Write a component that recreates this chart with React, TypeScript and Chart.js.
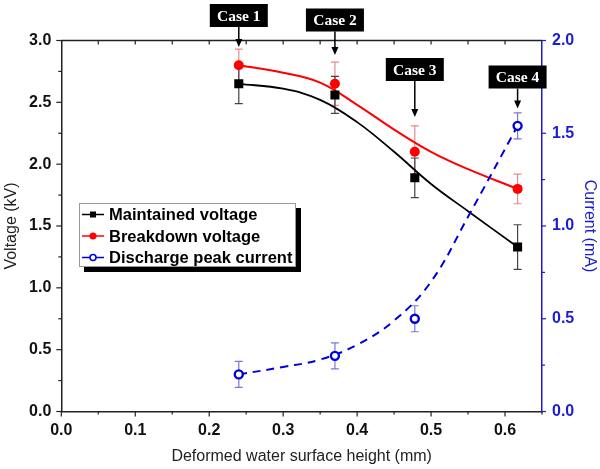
import React, { useEffect, useRef } from 'react';
import { Chart, registerables } from 'chart.js';

Chart.register(...registerables);

// ---- data ----
const heights = [0.24, 0.37, 0.478, 0.617];
const maintainedVoltage = [2.65, 2.56, 1.89, 1.33];
const maintainedErr = [0.16, 0.15, 0.16, 0.18];
const breakdownVoltage = [2.8, 2.65, 2.1, 1.8];
const breakdownErr = [0.13, 0.175, 0.21, 0.12];
const peakCurrent = [0.2, 0.3, 0.5, 1.54];
const currentErr = [0.07, 0.07, 0.07, 0.07];

// fitted curves
const fitX = [0.24, 0.3, 0.35, 0.4, 0.45, 0.5, 0.55, 0.617];
const maintainedFitY = [2.65, 2.61, 2.52, 2.34, 2.1, 1.84, 1.62, 1.33];
const breakdownFitY = [2.8, 2.74, 2.66, 2.48, 2.28, 2.1, 1.96, 1.8];
const currentFitY = [0.2, 0.24, 0.28, 0.36, 0.49, 0.7, 1.05, 1.54];

const caseLabels = ['Case 1', 'Case 2', 'Case 3', 'Case 4'];
const legendLabels = ['Maintained voltage', 'Breakdown voltage', 'Discharge peak current'];
const xTicks = [0, 0.1, 0.2, 0.3, 0.4, 0.5, 0.6];
const voltageTicks = [0, 0.5, 1.0, 1.5, 2.0, 2.5, 3.0];
const currentTicks = [0, 0.5, 1.0, 1.5, 2.0];

const SANS = "'Liberation Sans', Arial, sans-serif";
const SERIF = "'Liberation Serif', 'Times New Roman', serif";
const BLUE = '#1c1cd0';
const AXIS = '#222';

// annotation box placement (pixels)
const caseBoxTop = [4, 8.5, 58, 65.5];
const caseArrowTip = [47, 55, 117, 108.5];

const pts = (xs: number[], ys: number[]) => xs.map((x, i) => ({ x, y: ys[i] }));

const overlay = {
  id: 'overlay',
  beforeDatasetsDraw(chart: any) {
    const { ctx } = chart;
    const sx = chart.scales.x;
    const bars = (vals: number[], errs: number[], sc: any, color: string) => {
      ctx.save();
      ctx.strokeStyle = color;
      ctx.lineWidth = 1.2;
      vals.forEach((v, i) => {
        const px = sx.getPixelForValue(heights[i]);
        const top = sc.getPixelForValue(v + errs[i]);
        const bot = sc.getPixelForValue(v - errs[i]);
        ctx.beginPath();
        ctx.moveTo(px, top);
        ctx.lineTo(px, bot);
        ctx.moveTo(px - 4, top);
        ctx.lineTo(px + 4, top);
        ctx.moveTo(px - 4, bot);
        ctx.lineTo(px + 4, bot);
        ctx.stroke();
      });
      ctx.restore();
    };
    bars(peakCurrent, currentErr, chart.scales.y1, '#7878d8');
    bars(breakdownVoltage, breakdownErr, chart.scales.y, '#e88a8a');
    bars(maintainedVoltage, maintainedErr, chart.scales.y, '#444');
  },
  afterDraw(chart: any) {
    const { ctx, chartArea: a } = chart;
    const sx = chart.scales.x;
    const sy = chart.scales.y;
    const sy1 = chart.scales.y1;
    ctx.save();
    // top axis line
    ctx.strokeStyle = AXIS;
    ctx.lineWidth = 1.5;
    ctx.beginPath();
    ctx.moveTo(a.left, a.top);
    ctx.lineTo(a.right, a.top);
    ctx.stroke();
    // tick marks
    ctx.lineWidth = 1.2;
    for (let i = 0; i <= 13; i++) {
      const px = sx.getPixelForValue(i * 0.05);
      const major = i % 2 === 0;
      ctx.strokeStyle = AXIS;
      ctx.beginPath();
      ctx.moveTo(px, a.bottom);
      ctx.lineTo(px, a.bottom + (major ? 5 : 3));
      if (i > 0 && i < 13) {
        ctx.moveTo(px, a.top);
        ctx.lineTo(px, a.top + 4);
      }
      ctx.stroke();
    }
    for (let i = 0; i <= 12; i++) {
      const py = sy.getPixelForValue(i * 0.25);
      ctx.strokeStyle = AXIS;
      ctx.beginPath();
      ctx.moveTo(a.left, py);
      ctx.lineTo(a.left - (i % 2 === 0 ? 5 : 3), py);
      ctx.stroke();
    }
    for (let i = 0; i <= 8; i++) {
      const py = sy1.getPixelForValue(i * 0.25);
      ctx.strokeStyle = BLUE;
      ctx.beginPath();
      ctx.moveTo(a.right, py);
      ctx.lineTo(a.right + (i % 2 === 0 ? 4 : 3), py);
      ctx.stroke();
    }
    // case annotations
    caseLabels.forEach((lbl, i) => {
      const cx = sx.getPixelForValue(heights[i]);
      const bw = 58;
      const bh = 23;
      const top = caseBoxTop[i];
      ctx.fillStyle = '#000';
      ctx.fillRect(cx - bw / 2, top, bw, bh);
      ctx.fillStyle = '#fff';
      ctx.font = `bold 15.5px ${SERIF}`;
      ctx.textAlign = 'center';
      ctx.textBaseline = 'middle';
      ctx.fillText(lbl, cx, top + bh / 2 + 1);
      const tip = caseArrowTip[i];
      ctx.strokeStyle = '#000';
      ctx.lineWidth = 1.5;
      ctx.beginPath();
      ctx.moveTo(cx, top + bh);
      ctx.lineTo(cx, tip - 6);
      ctx.stroke();
      ctx.fillStyle = '#000';
      ctx.beginPath();
      ctx.moveTo(cx - 3.5, tip - 8);
      ctx.lineTo(cx + 3.5, tip - 8);
      ctx.lineTo(cx, tip);
      ctx.closePath();
      ctx.fill();
    });
    // legend
    const lx = 79;
    const ly = 203;
    const lw = 217;
    const lh = 64;
    ctx.fillStyle = '#000';
    ctx.fillRect(lx + 5, ly + 5, lw, lh);
    ctx.fillStyle = '#fff';
    ctx.fillRect(lx, ly, lw, lh);
    ctx.strokeStyle = '#999';
    ctx.lineWidth = 1;
    ctx.strokeRect(lx + 0.5, ly + 0.5, lw - 1, lh - 1);
    const rows = [214.5, 236, 257.5];
    const colors = ['#000', '#ff0000', '#0000dd'];
    legendLabels.forEach((lbl, i) => {
      const ry = rows[i];
      ctx.strokeStyle = colors[i];
      ctx.lineWidth = 1.5;
      ctx.beginPath();
      ctx.moveTo(82, ry);
      ctx.lineTo(104, ry);
      ctx.stroke();
      if (i === 0) {
        ctx.fillStyle = '#000';
        ctx.fillRect(90, ry - 3, 6, 6);
      } else if (i === 1) {
        ctx.fillStyle = '#ff0000';
        ctx.beginPath();
        ctx.arc(93, ry, 3.5, 0, Math.PI * 2);
        ctx.fill();
      } else {
        ctx.fillStyle = '#fff';
        ctx.strokeStyle = '#0000dd';
        ctx.lineWidth = 1.5;
        ctx.beginPath();
        ctx.arc(93, ry, 3, 0, Math.PI * 2);
        ctx.fill();
        ctx.stroke();
      }
      ctx.fillStyle = '#000';
      ctx.font = `bold 16.5px ${SANS}`;
      ctx.textAlign = 'left';
      ctx.textBaseline = 'middle';
      ctx.fillText(lbl, 109, ry + 1);
    });
    ctx.restore();
  },
};

export default function App() {
  const ref = useRef<HTMLCanvasElement>(null);
  useEffect(() => {
    if (!ref.current) return;
    const chart = new Chart(ref.current, {
      type: 'line',
      data: {
        datasets: [
          {
            label: 'Discharge peak current',
            data: pts(heights, peakCurrent),
            yAxisID: 'y1',
            showLine: false,
            pointStyle: 'circle',
            pointRadius: 4,
            pointBackgroundColor: '#fff',
            pointBorderColor: '#0000dd',
            pointBorderWidth: 2.4,
          },
          {
            label: 'Breakdown voltage',
            data: pts(heights, breakdownVoltage),
            yAxisID: 'y',
            showLine: false,
            pointStyle: 'circle',
            pointRadius: 5,
            pointBackgroundColor: '#ff0000',
            pointBorderColor: '#ff0000',
            pointBorderWidth: 0,
          },
          {
            label: 'Maintained voltage',
            data: pts(heights, maintainedVoltage),
            yAxisID: 'y',
            showLine: false,
            pointStyle: 'rect',
            pointRadius: 6.4,
            pointBackgroundColor: '#000',
            pointBorderColor: '#000',
            pointBorderWidth: 0,
          },
          {
            label: 'current fit',
            data: pts(fitX, currentFitY),
            yAxisID: 'y1',
            borderColor: '#0000dd',
            borderWidth: 2,
            borderDash: [8, 6],
            pointRadius: 0,
            tension: 0.4,
          },
          {
            label: 'breakdown fit',
            data: pts(fitX, breakdownFitY),
            yAxisID: 'y',
            borderColor: '#ff0000',
            borderWidth: 2,
            pointRadius: 0,
            tension: 0.4,
          },
          {
            label: 'maintained fit',
            data: pts(fitX, maintainedFitY),
            yAxisID: 'y',
            borderColor: '#000',
            borderWidth: 1.8,
            pointRadius: 0,
            tension: 0.4,
          },
        ],
      },
      options: {
        responsive: false,
        animation: false,
        layout: { padding: { top: 40.5, left: 0, right: 0, bottom: 0 } },
        plugins: { legend: { display: false }, tooltip: { enabled: false } },
        scales: {
          x: {
            type: 'linear',
            min: 0,
            max: 0.65,
            afterFit: (s: any) => { s.height = 57.5; },
            afterBuildTicks: (s: any) => { s.ticks = xTicks.map((v) => ({ value: v })); },
            grid: { display: false, drawTicks: false },
            border: { display: true, color: AXIS, width: 1.5 },
            ticks: {
              padding: 9,
              color: '#111',
              maxRotation: 0,
              autoSkip: false,
              font: { family: SANS, size: 16, weight: 'bold' },
              callback: (v: any) => Number(v).toFixed(1),
            },
            title: {
              display: true,
              text: 'Deformed water surface height (mm)',
              color: '#222',
              font: { family: SANS, size: 16 },
              padding: { top: 0, bottom: 3 },
            },
          },
          y: {
            position: 'left',
            min: 0,
            max: 3,
            afterFit: (s: any) => { s.width = 61.3; },
            afterBuildTicks: (s: any) => { s.ticks = voltageTicks.map((v) => ({ value: v })); },
            grid: { display: false, drawTicks: false },
            border: { display: true, color: AXIS, width: 1.5 },
            ticks: {
              padding: 10,
              color: '#111',
              font: { family: SANS, size: 16, weight: 'bold' },
              callback: (v: any) => Number(v).toFixed(1),
            },
            title: {
              display: true,
              text: 'Voltage (kV)',
              color: '#222',
              font: { family: SANS, size: 16 },
              padding: { top: 2, bottom: 0 },
            },
          },
          y1: {
            position: 'right',
            min: 0,
            max: 2,
            afterFit: (s: any) => { s.width = 58; },
            afterBuildTicks: (s: any) => { s.ticks = currentTicks.map((v) => ({ value: v })); },
            grid: { display: false, drawTicks: false },
            border: { display: true, color: BLUE, width: 1.5 },
            ticks: {
              padding: 10,
              color: BLUE,
              font: { family: SANS, size: 16, weight: 'bold' },
              callback: (v: any) => Number(v).toFixed(1),
            },
            title: {
              display: true,
              text: 'Current (mA)',
              color: BLUE,
              font: { family: SANS, size: 16 },
              padding: { top: 1, bottom: 0 },
            },
          },
        },
      },
      plugins: [overlay],
    } as any);
    return () => chart.destroy();
  }, []);
  return (
    <div style={{ position: 'absolute', left: 0, top: 0, width: 600, height: 469, background: '#fff' }}>
      <canvas ref={ref} width={600} height={469} style={{ display: 'block' }} />
    </div>
  );
}
